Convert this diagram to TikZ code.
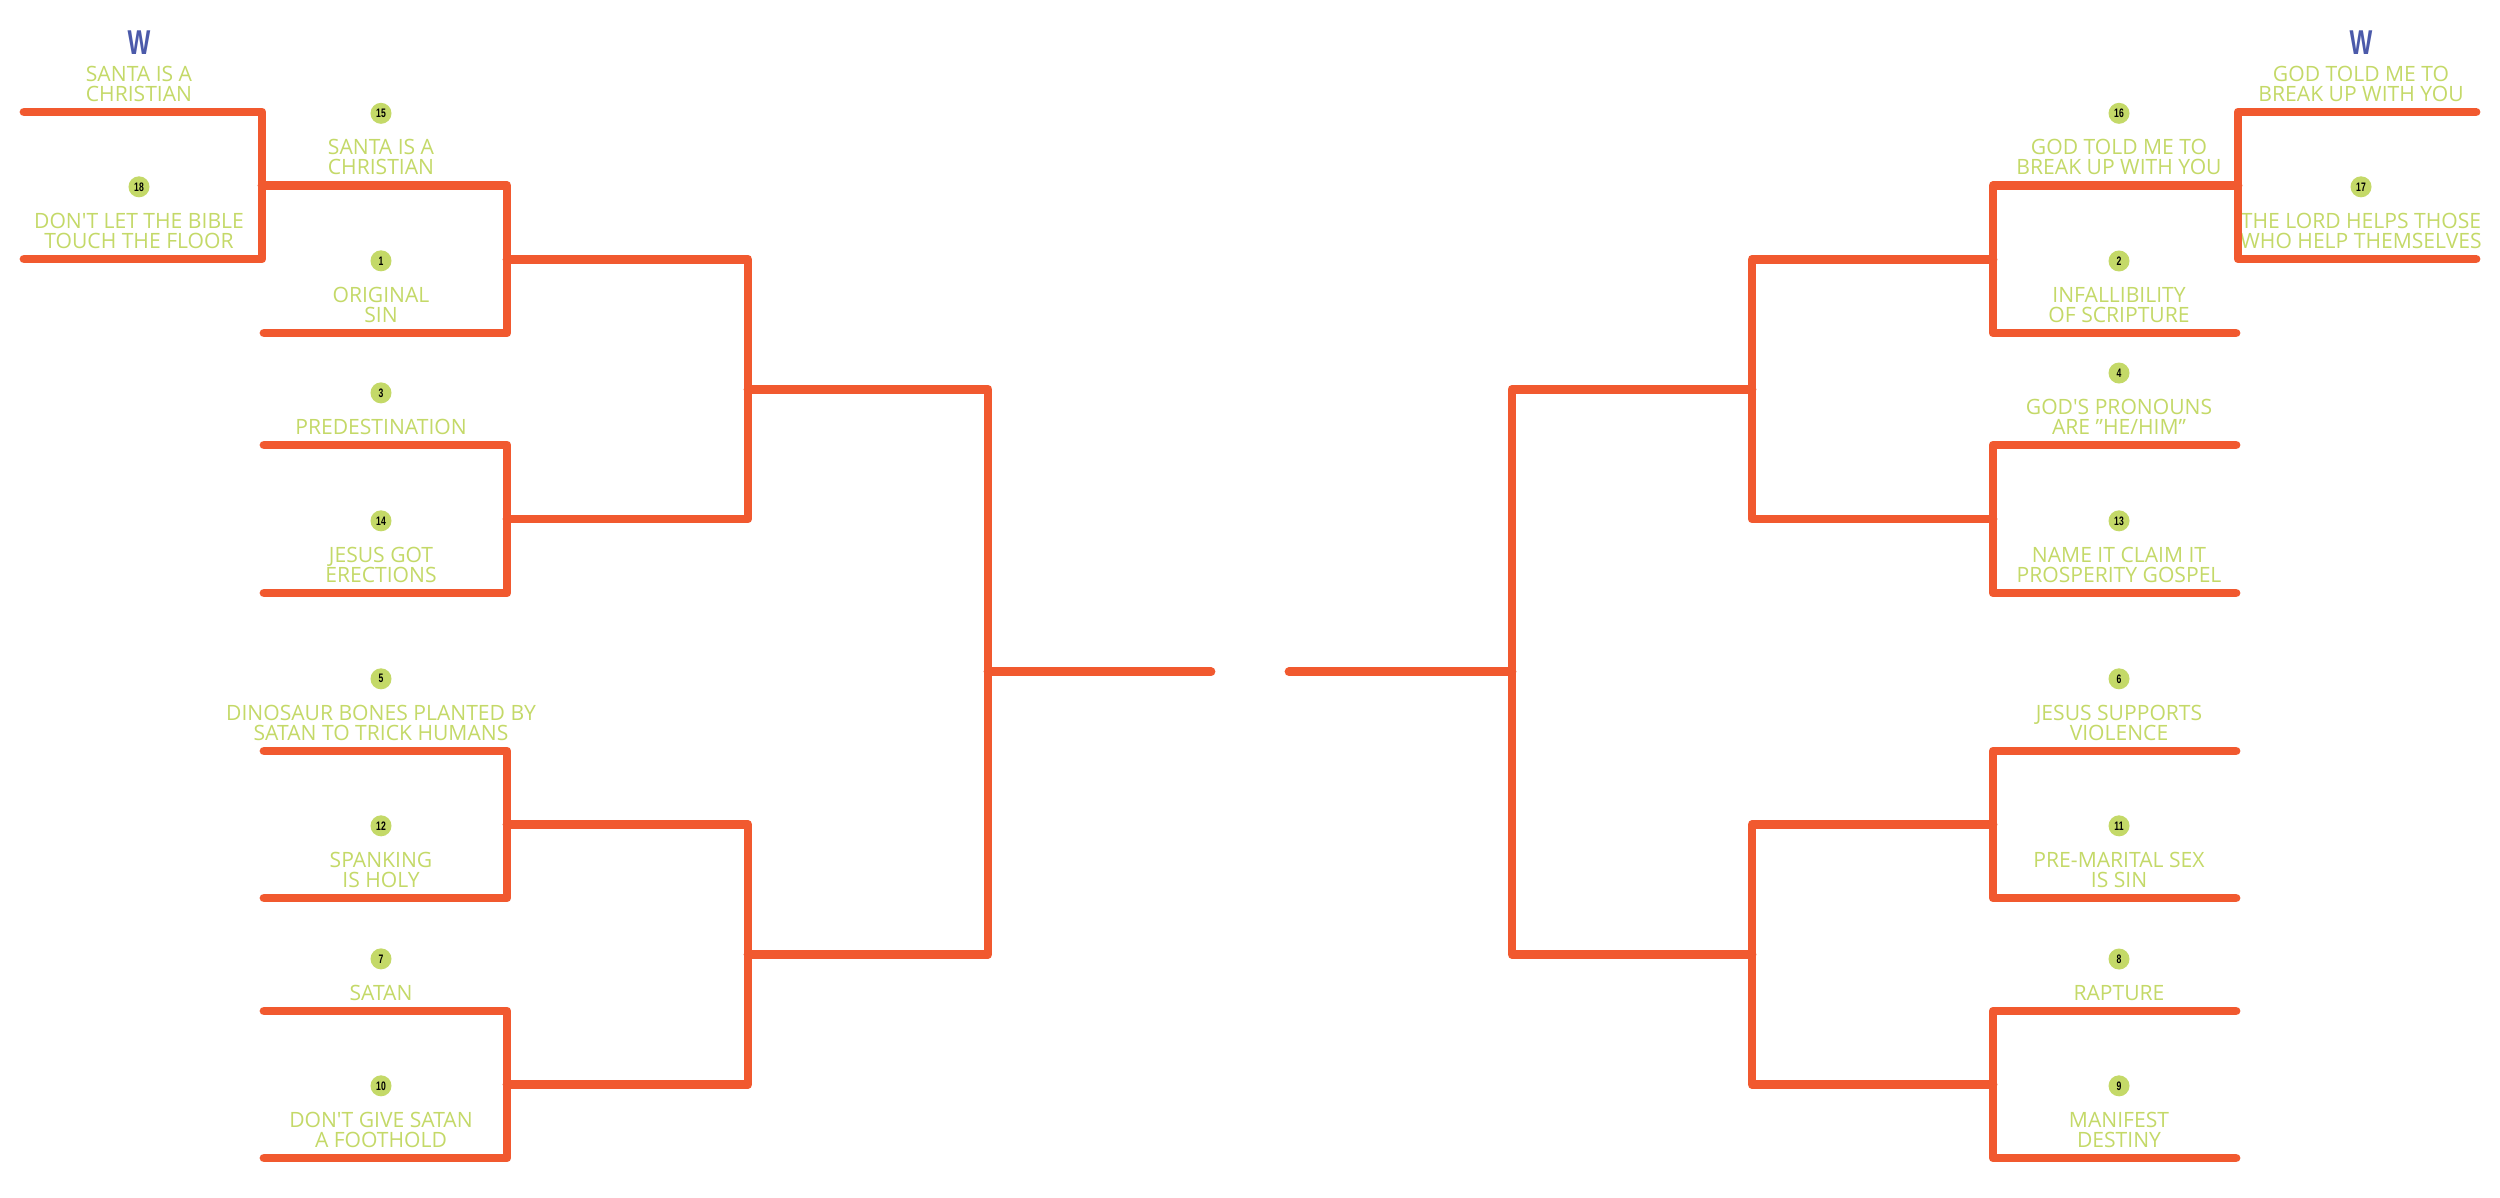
\documentclass[tikz,border=0pt]{standalone}
\usepackage{fontspec}
\setmainfont{Open Sans}
\newfontfamily\seedfont{Liberation Sans}[FakeStretch=0.7]
\usetikzlibrary{positioning, calc}

\definecolor{bracketorange}{HTML}{F1592F}
\definecolor{labelgreen}{HTML}{C4D968}
\definecolor{winblue}{HTML}{4B5AAA}

\newcommand{\entry}[6]{%
  % #1=name, #2=x outer end, #3=x label centre, #4=y line, #5=seed, #6=label
  \coordinate (#1) at (#2,#4);
  \node[teamlabel] (#1-label) at (#3,#4-10) {#6};
  \node[seedball, above=0.14cm of #1-label] (#1-seed) {#5};
}
\newcommand{\joinpair}[4]{%
  % #1=name, #2=upper feeder, #3=lower feeder, #4=column
  \draw[bline] (#2) -- (#2 -| #4) -- (#3 -| #4) -- (#3);
  \coordinate (#1) at ($(#2 -| #4)!0.5!(#3 -| #4)$);
}

\begin{document}
\begin{tikzpicture}[
  x=0.01cm, y=-0.01cm,
  bline/.style={draw=bracketorange, line width=2.5pt, line cap=round, line join=round},
  teamlabel/.style={anchor=south, align=center, inner sep=0pt, text=labelgreen,
    font=\fontsize{6}{5.7}\selectfont},
  seedball/.style={circle, fill=labelgreen, minimum size=0.21cm, inner sep=0pt,
    font=\seedfont\bfseries\fontsize{3.5}{3.5}\selectfont},
  winmark/.style={inner sep=0pt, text=winblue, font=\seedfont\bfseries\fontsize{9.8}{9.8}\selectfont},
]
\fill[white] (0,0) rectangle (2500,1198);

% Columns
\coordinate (c1L) at (262,0);
\coordinate (c2L) at (507,0);
\coordinate (c3L) at (748,0);
\coordinate (c4L) at (988,0);
\coordinate (gL) at (1211,0);
\coordinate (c1R) at (2238,0);
\coordinate (c2R) at (1993,0);
\coordinate (c3R) at (1752,0);
\coordinate (c4R) at (1512,0);
\coordinate (gR) at (1289,0);

% Left play-in
\coordinate (wL) at (24,112);
\node[teamlabel] (wL-label) at (139,102) {SANTA IS A\\CHRISTIAN};
\node[winmark, above=0.1cm of wL-label] (wL-mark) {W};
\entry{s18}{24}{139}{259}{18}{DON\textquotesingle T LET THE BIBLE\\TOUCH THE FLOOR}
\joinpair{pL}{wL}{s18}{c1L}

% Left first round
\entry{s15}{262}{381}{185.5}{15}{SANTA IS A\\CHRISTIAN}
\entry{s1}{264}{381}{333}{1}{ORIGINAL\\SIN}
\entry{s3}{264}{381}{445}{3}{PREDESTINATION}
\entry{s14}{264}{381}{593}{14}{JESUS GOT\\ERECTIONS}
\entry{s5}{264}{381}{751}{5}{DINOSAUR BONES PLANTED BY\\SATAN TO TRICK HUMANS}
\entry{s12}{264}{381}{898}{12}{SPANKING\\IS HOLY}
\entry{s7}{264}{381}{1011}{7}{SATAN}
\entry{s10}{264}{381}{1158}{10}{DON\textquotesingle T GIVE SATAN\\A FOOTHOLD}

% Left rounds
\joinpair{q1L}{pL}{s1}{c2L}
\joinpair{q2L}{s3}{s14}{c2L}
\joinpair{q3L}{s5}{s12}{c2L}
\joinpair{q4L}{s7}{s10}{c2L}
\joinpair{h1L}{q1L}{q2L}{c3L}
\joinpair{h2L}{q3L}{q4L}{c3L}
\joinpair{sL}{h1L}{h2L}{c4L}
\draw[bline] (sL) -- (sL -| gL);

% Right play-in
\coordinate (wR) at (2476,112);
\node[teamlabel] (wR-label) at (2361,102) {GOD TOLD ME TO\\BREAK UP WITH YOU};
\node[winmark, above=0.1cm of wR-label] (wR-mark) {W};
\entry{s17}{2476}{2361}{259}{17}{THE LORD HELPS THOSE\\WHO HELP THEMSELVES}
\joinpair{pR}{wR}{s17}{c1R}

% Right first round
\entry{s16}{2238}{2119}{185.5}{16}{GOD TOLD ME TO\\BREAK UP WITH YOU}
\entry{s2}{2236}{2119}{333}{2}{INFALLIBILITY\\OF SCRIPTURE}
\entry{s4}{2236}{2119}{445}{4}{GOD\textquotesingle S PRONOUNS\\ARE "HE/HIM"}
\entry{s13}{2236}{2119}{593}{13}{NAME IT CLAIM IT\\PROSPERITY GOSPEL}
\entry{s6}{2236}{2119}{751}{6}{JESUS SUPPORTS\\VIOLENCE}
\entry{s11}{2236}{2119}{898}{11}{PRE-MARITAL SEX\\IS SIN}
\entry{s8}{2236}{2119}{1011}{8}{RAPTURE}
\entry{s9}{2236}{2119}{1158}{9}{MANIFEST\\DESTINY}

% Right rounds
\joinpair{q1R}{pR}{s2}{c2R}
\joinpair{q2R}{s4}{s13}{c2R}
\joinpair{q3R}{s6}{s11}{c2R}
\joinpair{q4R}{s8}{s9}{c2R}
\joinpair{h1R}{q1R}{q2R}{c3R}
\joinpair{h2R}{q3R}{q4R}{c3R}
\joinpair{sR}{h1R}{h2R}{c4R}
\draw[bline] (sR) -- (sR -| gR);

\end{tikzpicture}
\end{document}
